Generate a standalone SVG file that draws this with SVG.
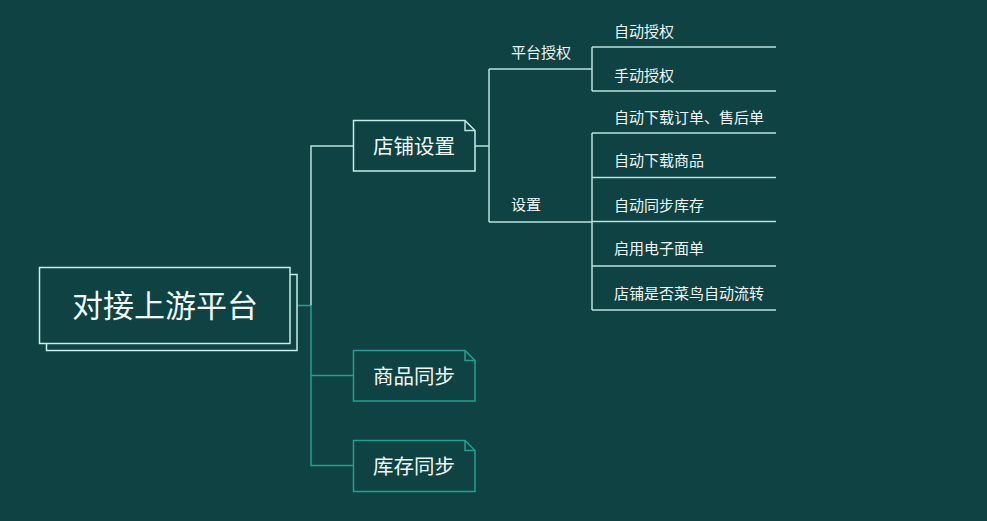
<svg xmlns="http://www.w3.org/2000/svg" width="987" height="521" viewBox="0 0 987 521">
<style>
.bg{fill:#0e4243}
.lt{fill:none;stroke:#b8e2de;stroke-width:1.5}
.tl{fill:none;stroke:#24a090;stroke-width:1.5}
.nodeL{fill:#0e4243;stroke:#c6eeea;stroke-width:1.5}
.nodeT{fill:#0e4243;stroke:#24a090;stroke-width:1.5}
text{font-family:"Noto Sans CJK SC","Noto Sans",sans-serif;fill:#f2f6f5}
.big{font-size:31px}
.mid{font-size:20.5px}
.sm{font-size:15px}
</style>
<rect class="bg" x="0" y="0" width="987" height="521"/>
<g id="connectors">
<path class="tl" d="M297 305.5H311"/>
<path class="lt" d="M311 305.5V146H353"/>
<path class="tl" d="M311 305.5V465.5H353M311 375.5H353"/>
<path class="lt" d="M475 146H489M489 69V222M489 69H592M489 222H592"/>
<path class="lt" d="M592 47V91M592 47H776M592 91H776"/>
<path class="lt" d="M592 133V310M592 133H776M592 177.5H776M592 221.5H776M592 266H776M592 310H776"/>
</g>
<g id="root">
<rect class="nodeL" x="46.5" y="274.5" width="250.5" height="76"/>
<rect class="nodeL" x="39.5" y="267.5" width="250.5" height="76"/>
<text class="big" x="165" y="317" text-anchor="middle">对接上游平台</text>
</g>
<g id="n-dianpu">
<path class="nodeL" d="M353.5 120.5H465L475 130.5V171H353.5Z"/>
<path class="lt" d="M465 120.5V130.5H475"/>
<text class="mid" x="414" y="154" text-anchor="middle">店铺设置</text>
</g>
<g id="n-shangpin">
<path class="nodeT" d="M353.5 350.5H465L475 360.5V401H353.5Z"/>
<path class="tl" d="M465 350.5V360.5H475"/>
<text class="mid" x="414" y="383.5" text-anchor="middle">商品同步</text>
</g>
<g id="n-kucun">
<path class="nodeT" d="M353.5 440.5H465L475 450.5V491.5H353.5Z"/>
<path class="tl" d="M465 440.5V450.5H475"/>
<text class="mid" x="414" y="473.5" text-anchor="middle">库存同步</text>
</g>
<g id="n-pingtai"><text class="sm" x="511" y="57.5">平台授权</text></g>
<g id="n-shezhi"><text class="sm" x="511" y="209.5">设置</text></g>
<g id="n-zdsq"><text class="sm" x="614" y="36.5">自动授权</text></g>
<g id="n-sdsq"><text class="sm" x="614" y="80.5">手动授权</text></g>
<g id="n-zdxzdd"><text class="sm" x="614" y="122.5">自动下载订单、售后单</text></g>
<g id="n-zdxzsp"><text class="sm" x="614" y="166">自动下载商品</text></g>
<g id="n-zdtbkc"><text class="sm" x="614" y="210.5">自动同步库存</text></g>
<g id="n-qydzmd"><text class="sm" x="614" y="253.5">启用电子面单</text></g>
<g id="n-cnlz"><text class="sm" x="614" y="298.5">店铺是否菜鸟自动流转</text></g>
</svg>
